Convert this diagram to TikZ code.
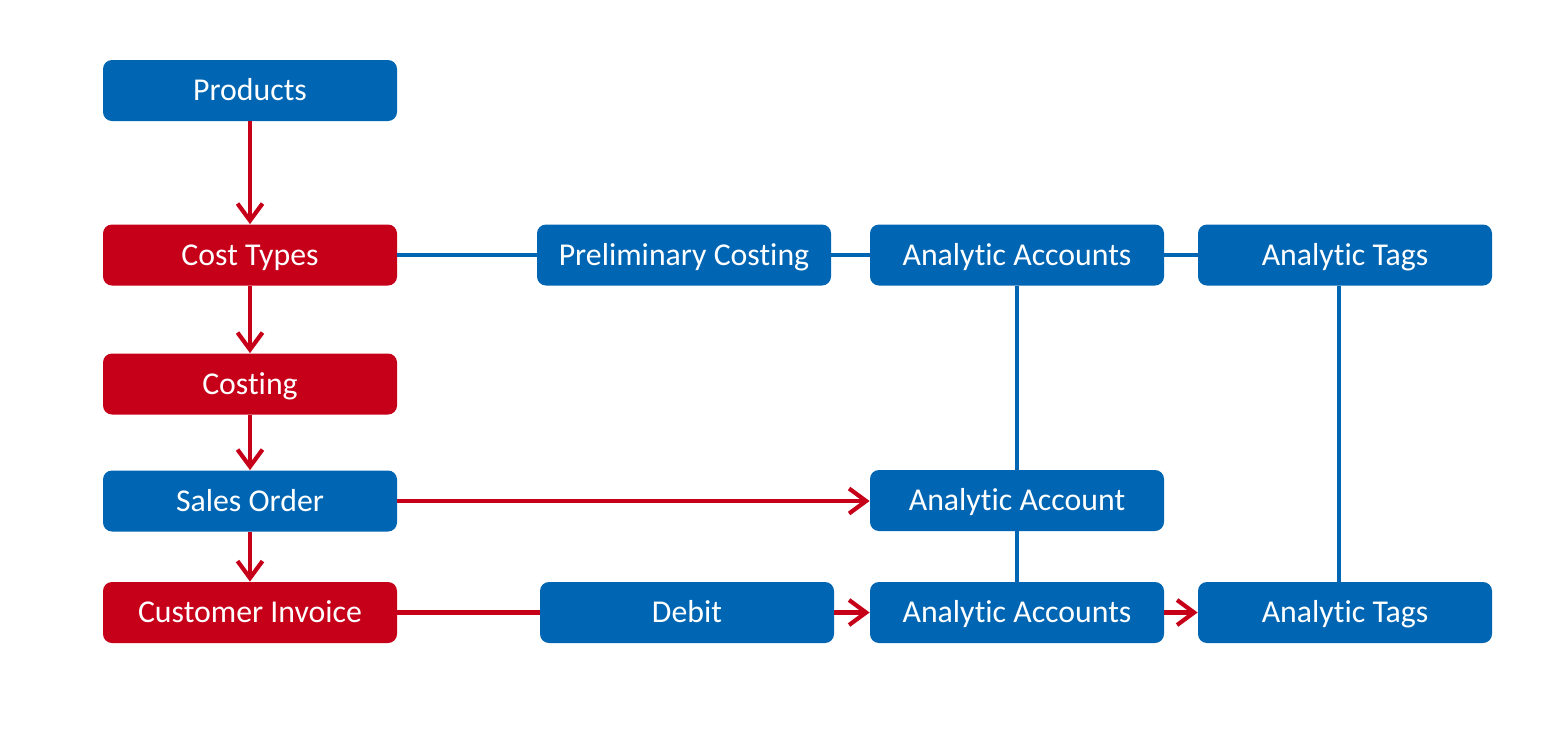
\documentclass[tikz,border=0pt]{standalone}
\usepackage{fontspec}
\setmainfont{Carlito}[RawFeature={-liga;-clig;-dlig}]
\usetikzlibrary{arrows.meta}
\definecolor{boxblue}{HTML}{0066B3}
\definecolor{boxred}{HTML}{C70019}
\begin{document}
\begin{tikzpicture}[x=0.5pt,y=-0.5pt,
  bx/.style={rounded corners=4.5pt,minimum width=147pt,minimum height=30.5pt,inner sep=0pt,text height=13pt,text depth=2.8pt,text=white,font=\fontsize{15.9}{17}\selectfont},
  bluebox/.style={bx,fill=boxblue},
  redbox/.style={bx,fill=boxred},
  redarr/.style={draw=boxred,line width=2.1pt,-{Straight Barb[length=8.5pt,width=12.5pt,line width=2.1pt]}},
  redline/.style={draw=boxred,line width=2.1pt},
  blueline/.style={draw=boxblue,line width=2.1pt}]
\useasboundingbox (0,0) rectangle (1557,735);
\fill[white] (0,0) rectangle (1557,735);
\node[bluebox] (prod) at (250,90.5) {Products};
\node[redbox] (cost) at (250,255) {Cost Types};
\node[redbox] (costing) at (250,384) {Costing};
\node[bluebox] (so) at (250,501) {Sales Order};
\node[redbox] (ci) at (250,612.5) {Customer Invoice};
\node[bluebox] (pc) at (684,255) {Preliminary Costing};
\node[bluebox] (aa1) at (1017,255) {Analytic Accounts};
\node[bluebox] (at1) at (1345,255) {Analytic Tags};
\node[bluebox] (aa) at (1017,500.5) {Analytic Account};
\node[bluebox] (debit) at (687,612.5) {Debit};
\node[bluebox] (aa2) at (1017,612.5) {Analytic Accounts};
\node[bluebox] (at2) at (1345,612.5) {Analytic Tags};
\draw[redarr] (prod) -- (cost);
\draw[redarr] (cost) -- (costing);
\draw[redarr] (costing) -- (so);
\draw[redarr] (so) -- (ci);
\draw[blueline] (cost) -- (pc);
\draw[blueline] (pc) -- (aa1);
\draw[blueline] (aa1) -- (at1);
\draw[blueline] (aa1) -- (aa);
\draw[blueline] (aa) -- (aa2);
\draw[blueline] ([xshift=-3pt]at1.south) -- ([xshift=-3pt]at2.north);
\draw[redarr] (so.east) -- (so.east -| aa.west);
\draw[redline] (ci) -- (debit);
\draw[redarr] (debit) -- (aa2);
\draw[redarr] (aa2) -- (at2);
\end{tikzpicture}
\end{document}
